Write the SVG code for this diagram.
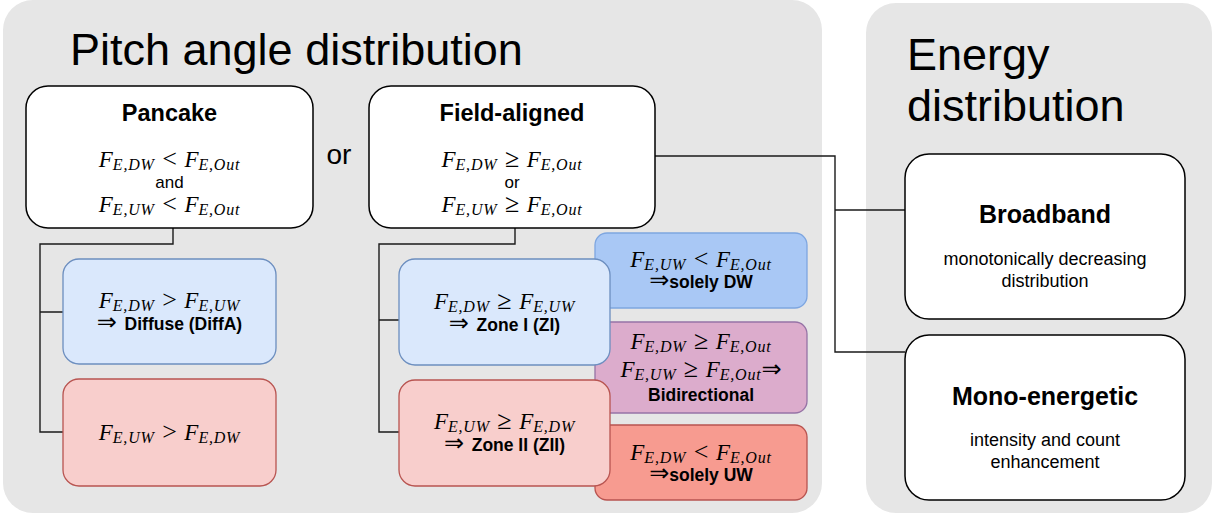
<svg xmlns="http://www.w3.org/2000/svg" width="1214" height="515" viewBox="0 0 1214 515">
  <style>
    .panel { fill: #e6e6e6; }
    .box { fill: #ffffff; stroke: #000000; stroke-width: 1.5; }
    .blue { fill: #dae8fc; stroke: #6c8ebf; stroke-width: 1.3; }
    .red { fill: #f8cecc; stroke: #b85450; stroke-width: 1.3; }
    .dblue { fill: #a9c8f5; stroke: #7ea6e0; stroke-width: 1.3; }
    .purple { fill: #dcaccc; stroke: #9673a6; stroke-width: 1.3; }
    .salmon { fill: #f79b90; stroke: #b85450; stroke-width: 1.3; }
    .conn { fill: none; stroke: #1a1a1a; stroke-width: 1.4; }
    .title { font-family: "Liberation Sans", Arial, sans-serif; font-size: 45px; fill: #000; }
    .head { font-family: "Liberation Sans", Arial, sans-serif; font-size: 23.5px; font-weight: bold; text-anchor: middle; fill: #000; }
    .head2 { font-family: "Liberation Sans", Arial, sans-serif; font-size: 25px; font-weight: bold; text-anchor: middle; fill: #000; }
    .body { font-family: "Liberation Sans", Arial, sans-serif; font-size: 18px; text-anchor: middle; fill: #000; }
    .word { font-family: "Liberation Sans", Arial, sans-serif; font-size: 17px; text-anchor: middle; fill: #000; }
    .lbl { font-family: "Liberation Sans", Arial, sans-serif; font-size: 17.5px; font-weight: bold; fill: #000; }
    .m { font-family: "Liberation Serif", "DejaVu Serif", serif; font-size: 23px; text-anchor: middle; fill: #000; }
    .i { font-style: italic; }
    .s { font-style: italic; font-size: 16px; letter-spacing: 0.8px; }
    .op { font-size: 26px; }
    .ar { font-family: "DejaVu Sans", sans-serif; font-size: 24px; }
  </style>

  <!-- background panels -->
  <rect class="panel" x="3" y="0" width="819" height="513" rx="30"/>
  <rect class="panel" x="866" y="3" width="346" height="510" rx="30"/>
  <text class="title" x="70" y="65">Pitch angle distribution</text>
  <text class="title" x="907" y="70">Energy</text>
  <text class="title" x="907" y="121">distribution</text>
  <text x="339" y="164" font-family="Liberation Sans, Arial, sans-serif" font-size="28" text-anchor="middle">or</text>

  <!-- connectors -->
  <g id="connectors">
    <path class="conn" d="M173,228 V244 H40 V432 H63 M40,312 H63"/>
    <path class="conn" d="M515,228 V244 H379 V432 H399 M379,320 H399"/>
    <path class="conn" d="M655,156 H835 V352 H905 M835,210 H905"/>
  </g>

  <!-- Pancake -->
  <g id="pancake">
    <rect class="box" x="26" y="86" width="287" height="142" rx="22"/>
    <text class="head" x="169.5" y="121">Pancake</text>
    <text class="m" x="169.5" y="167"><tspan class="i">F</tspan><tspan class="s" dy="3">E,DW</tspan><tspan class="op" dy="-3" dx="1"> &lt; </tspan><tspan class="i" dx="1">F</tspan><tspan class="s" dy="3">E,Out</tspan></text>
    <text class="word" x="169.5" y="188">and</text>
    <text class="m" x="169.5" y="212"><tspan class="i">F</tspan><tspan class="s" dy="3">E,UW</tspan><tspan class="op" dy="-3" dx="1"> &lt; </tspan><tspan class="i" dx="1">F</tspan><tspan class="s" dy="3">E,Out</tspan></text>
  </g>

  <!-- Field-aligned -->
  <g id="field-aligned">
    <rect class="box" x="369" y="86" width="286" height="142" rx="22"/>
    <text class="head" x="512" y="121">Field-aligned</text>
    <text class="m" x="512" y="167"><tspan class="i">F</tspan><tspan class="s" dy="3">E,DW</tspan><tspan class="op" dy="-3" dx="1"> ≥ </tspan><tspan class="i" dx="1">F</tspan><tspan class="s" dy="3">E,Out</tspan></text>
    <text class="word" x="512" y="188">or</text>
    <text class="m" x="512" y="212"><tspan class="i">F</tspan><tspan class="s" dy="3">E,UW</tspan><tspan class="op" dy="-3" dx="1"> ≥ </tspan><tspan class="i" dx="1">F</tspan><tspan class="s" dy="3">E,Out</tspan></text>
  </g>

  <!-- Pancake branches -->
  <g id="diffuse">
    <rect class="blue" x="63" y="259" width="213" height="105" rx="16"/>
    <text class="m" x="169.5" y="308"><tspan class="i">F</tspan><tspan class="s" dy="3">E,DW</tspan><tspan class="op" dy="-3" dx="1"> &gt; </tspan><tspan class="i" dx="1">F</tspan><tspan class="s" dy="3">E,UW</tspan></text>
    <text class="m" x="169.5" y="330"><tspan class="ar">⇒ </tspan><tspan class="lbl">Diffuse (DiffA)</tspan></text>
  </g>
  <g id="uw-over-dw">
    <rect class="red" x="63" y="379" width="213" height="107" rx="16"/>
    <text class="m" x="169.5" y="440"><tspan class="i">F</tspan><tspan class="s" dy="3">E,UW</tspan><tspan class="op" dy="-3" dx="1"> &gt; </tspan><tspan class="i" dx="1">F</tspan><tspan class="s" dy="3">E,DW</tspan></text>
  </g>

  <!-- Field-aligned sub-cases (drawn beneath the zone boxes) -->
  <g id="solely-dw">
    <rect class="dblue" x="595" y="233" width="212" height="75" rx="12"/>
    <text class="m" x="701" y="267"><tspan class="i">F</tspan><tspan class="s" dy="3">E,UW</tspan><tspan class="op" dy="-3" dx="1"> &lt; </tspan><tspan class="i" dx="1">F</tspan><tspan class="s" dy="3">E,Out</tspan></text>
    <text class="m" x="701" y="288"><tspan class="ar">⇒</tspan><tspan class="lbl">solely DW</tspan></text>
  </g>
  <g id="bidirectional">
    <rect class="purple" x="595" y="322" width="212" height="91" rx="12"/>
    <text class="m" x="701" y="349"><tspan class="i">F</tspan><tspan class="s" dy="3">E,DW</tspan><tspan class="op" dy="-3" dx="1"> ≥ </tspan><tspan class="i" dx="1">F</tspan><tspan class="s" dy="3">E,Out</tspan></text>
    <text class="m" x="701" y="377"><tspan class="i">F</tspan><tspan class="s" dy="3">E,UW</tspan><tspan class="op" dy="-3" dx="1"> ≥ </tspan><tspan class="i" dx="1">F</tspan><tspan class="s" dy="3">E,Out</tspan><tspan class="ar" dy="-3">⇒</tspan></text>
    <text class="lbl" x="701" y="401" text-anchor="middle">Bidirectional</text>
  </g>
  <g id="solely-uw">
    <rect class="salmon" x="595" y="425" width="212" height="75" rx="12"/>
    <text class="m" x="701" y="460"><tspan class="i">F</tspan><tspan class="s" dy="3">E,DW</tspan><tspan class="op" dy="-3" dx="1"> &lt; </tspan><tspan class="i" dx="1">F</tspan><tspan class="s" dy="3">E,Out</tspan></text>
    <text class="m" x="701" y="481"><tspan class="ar">⇒</tspan><tspan class="lbl">solely UW</tspan></text>
  </g>

  <g id="zone-1">
    <rect class="blue" x="399" y="259" width="211" height="106" rx="16"/>
    <text class="m" x="504.5" y="309"><tspan class="i">F</tspan><tspan class="s" dy="3">E,DW</tspan><tspan class="op" dy="-3" dx="1"> ≥ </tspan><tspan class="i" dx="1">F</tspan><tspan class="s" dy="3">E,UW</tspan></text>
    <text class="m" x="504.5" y="331"><tspan class="ar">⇒ </tspan><tspan class="lbl">Zone I (ZI)</tspan></text>
  </g>
  <g id="zone-2">
    <rect class="red" x="399" y="380" width="211" height="106" rx="16"/>
    <text class="m" x="504.5" y="429"><tspan class="i">F</tspan><tspan class="s" dy="3">E,UW</tspan><tspan class="op" dy="-3" dx="1"> ≥ </tspan><tspan class="i" dx="1">F</tspan><tspan class="s" dy="3">E,DW</tspan></text>
    <text class="m" x="504.5" y="451"><tspan class="ar">⇒ </tspan><tspan class="lbl">Zone II (ZII)</tspan></text>
  </g>

  <!-- Energy distribution -->
  <g id="broadband">
    <rect class="box" x="905" y="154" width="280" height="165" rx="24"/>
    <text class="head2" x="1045" y="223">Broadband</text>
    <text class="body" x="1045" y="265">monotonically decreasing</text>
    <text class="body" x="1045" y="287">distribution</text>
  </g>
  <g id="mono-energetic">
    <rect class="box" x="905" y="335" width="280" height="165" rx="24"/>
    <text class="head2" x="1045" y="405">Mono-energetic</text>
    <text class="body" x="1045" y="446">intensity and count</text>
    <text class="body" x="1045" y="468">enhancement</text>
  </g>
</svg>
